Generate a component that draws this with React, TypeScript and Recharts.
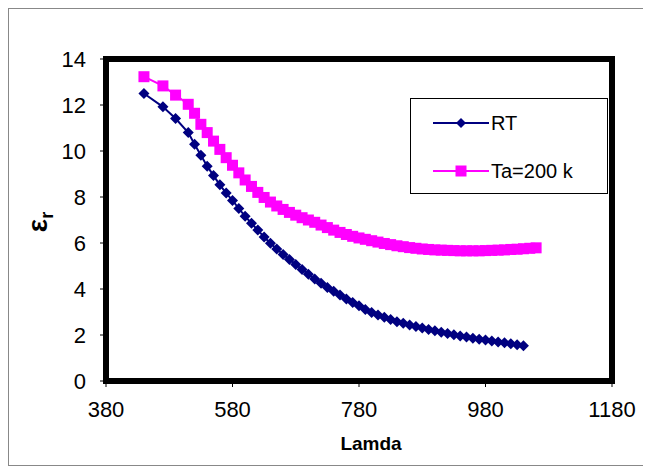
import React from 'react';
import { LineChart, Line, XAxis, YAxis, Legend, ReferenceArea } from 'recharts';

const lambdaRT = [
  440, 470, 490, 510, 520, 530, 540, 550, 560, 570, 580, 590, 600, 610, 620, 630, 640, 650, 660, 670,
  680, 690, 700, 710, 720, 730, 740, 750, 760, 770, 780, 790, 800, 810, 820, 830, 840, 850, 860, 870,
  880, 890, 900, 910, 920, 930, 940, 950, 960, 970, 980, 990, 1000, 1010, 1020, 1030, 1040,
];
const rtValues = [
  12.5, 11.92, 11.41, 10.8, 10.29, 9.81, 9.34, 8.93, 8.53, 8.17, 7.85, 7.5, 7.16, 6.86, 6.56, 6.26, 5.99, 5.74, 5.5, 5.28,
  5.07, 4.85, 4.64, 4.44, 4.25, 4.07, 3.9, 3.74, 3.57, 3.41, 3.27, 3.11, 2.98, 2.87, 2.77, 2.67, 2.58, 2.51, 2.44, 2.37,
  2.3, 2.24, 2.18, 2.12, 2.06, 2.01, 1.96, 1.91, 1.86, 1.82, 1.78, 1.74, 1.7, 1.66, 1.62, 1.58, 1.53,
];

const lambdaTa = [
  440, 470, 490, 510, 520, 530, 540, 550, 560, 570, 580, 590, 600, 610, 620, 630, 640, 650, 660, 670,
  680, 690, 700, 710, 720, 730, 740, 750, 760, 770, 780, 790, 800, 810, 820, 830, 840, 850, 860, 870,
  880, 890, 900, 910, 920, 930, 940, 950, 960, 970, 980, 990, 1000, 1010, 1020, 1030, 1040, 1050, 1060,
];
const taValues = [
  13.23, 12.83, 12.43, 12.03, 11.64, 11.16, 10.8, 10.43, 10.07, 9.71, 9.38, 9.05, 8.74, 8.46, 8.2, 7.98, 7.78, 7.61, 7.46, 7.33,
  7.21, 7.1, 7.0, 6.9, 6.78, 6.67, 6.56, 6.46, 6.37, 6.29, 6.22, 6.16, 6.1, 6.04, 5.98, 5.93, 5.88, 5.84, 5.8, 5.77,
  5.74, 5.72, 5.7, 5.69, 5.68, 5.67, 5.66, 5.66, 5.66, 5.66, 5.67, 5.68, 5.69, 5.7, 5.72, 5.73, 5.75, 5.77, 5.79,
];

const xTicks = [380, 580, 780, 980, 1180];
const yTicks = [0, 2, 4, 6, 8, 10, 12, 14];

const rtData = lambdaRT.map((x, i) => ({ lambda: x, value: rtValues[i] }));
const taData = lambdaTa.map((x, i) => ({ lambda: x, value: taValues[i] }));

const FONT = "'Liberation Sans', Arial, sans-serif";
const NAVY = '#000080';
const PINK = '#FF00FF';

const diamond = (props: any) => {
  const { cx, cy, index } = props;
  const r = 5.5;
  return (
    <polygon
      key={`rt-${index}`}
      points={`${cx},${cy - r} ${cx + r},${cy} ${cx},${cy + r} ${cx - r},${cy}`}
      fill={NAVY}
    />
  );
};

const square = (props: any) => {
  const { cx, cy, index } = props;
  const h = 5.5;
  return <rect key={`ta-${index}`} x={cx - h} y={cy - h} width={h * 2} height={h * 2} fill={PINK} />;
};

const YTitle = () => (
  <text
    x={38}
    y={213}
    transform="rotate(-90 38 213)"
    textAnchor="middle"
    fontFamily={FONT}
    fontWeight="bold"
    fontSize={28}
    fill="#000"
  >
    <tspan>ε</tspan>
    <tspan fontSize={18} dy={6}>r</tspan>
  </text>
);

const XTitle = () => (
  <text x={362} y={441} textAnchor="middle" fontFamily={FONT} fontWeight="bold" fontSize={19} fill="#000">
    Lamda
  </text>
);

const LegendBox = (props: any) => {
  const { payload } = props;
  return (
    <div
      style={{
        width: 196,
        height: 94,
        border: '1px solid #000',
        background: '#fff',
        fontFamily: FONT,
        fontSize: 20,
        position: 'relative',
      }}
    >
      {(payload || []).map((entry: any, i: number) => (
        <div
          key={entry.value}
          style={{ position: 'absolute', left: 22, top: 10 + i * 48, height: 28, display: 'flex', alignItems: 'center' }}
        >
          <svg width={56} height={20}>
            <line x1={0} y1={10} x2={56} y2={10} stroke={entry.color} strokeWidth={2} />
            {i === 0 ? (
              <polygon points="28,5 33,10 28,15 23,10" fill={entry.color} />
            ) : (
              <rect x={22.5} y={4.5} width={11} height={11} fill={entry.color} />
            )}
          </svg>
          <span style={{ marginLeft: 2, color: '#000' }}>{entry.value}</span>
        </div>
      ))}
    </div>
  );
};

export default function App() {
  return (
    <div style={{ width: 634, height: 456, border: '1px solid #888', background: '#fff' }}>
      <LineChart width={634} height={456} margin={{ top: 50, right: 31, left: 0, bottom: 24 }}>
        <XAxis
          dataKey="lambda"
          type="number"
          domain={[380, 1180]}
          ticks={xTicks}
          allowDataOverflow
          axisLine={false}
          tickLine={{ stroke: '#000' }}
          tickSize={6}
          tickMargin={14}
          height={60}
          tick={{ fill: '#000', fontSize: 22, fontFamily: FONT }}
          label={<XTitle />}
        />
        <YAxis
          type="number"
          domain={[0, 14]}
          ticks={yTicks}
          axisLine={false}
          tickLine={{ stroke: '#000' }}
          tickSize={6}
          tickMargin={14}
          width={97}
          tick={{ fill: '#000', fontSize: 22, fontFamily: FONT }}
          label={<YTitle />}
        />
        <ReferenceArea
          x1={380}
          x2={1180}
          y1={0}
          y2={14}
          fill="none"
          stroke="#000"
          strokeWidth={6}
          ifOverflow="visible"
        />
        <Line
          data={rtData}
          dataKey="value"
          name="RT"
          stroke={NAVY}
          strokeWidth={2}
          dot={diamond}
          activeDot={false}
          isAnimationActive={false}
        />
        <Line
          data={taData}
          dataKey="value"
          name="Ta=200 k"
          stroke={PINK}
          strokeWidth={2}
          dot={square}
          activeDot={false}
          isAnimationActive={false}
        />
        <Legend
          layout="vertical"
          verticalAlign="middle"
          align="center"
          content={<LegendBox />}
          wrapperStyle={{ left: 401, top: 89, width: 198, height: 96 }}
        />
      </LineChart>
    </div>
  );
}
